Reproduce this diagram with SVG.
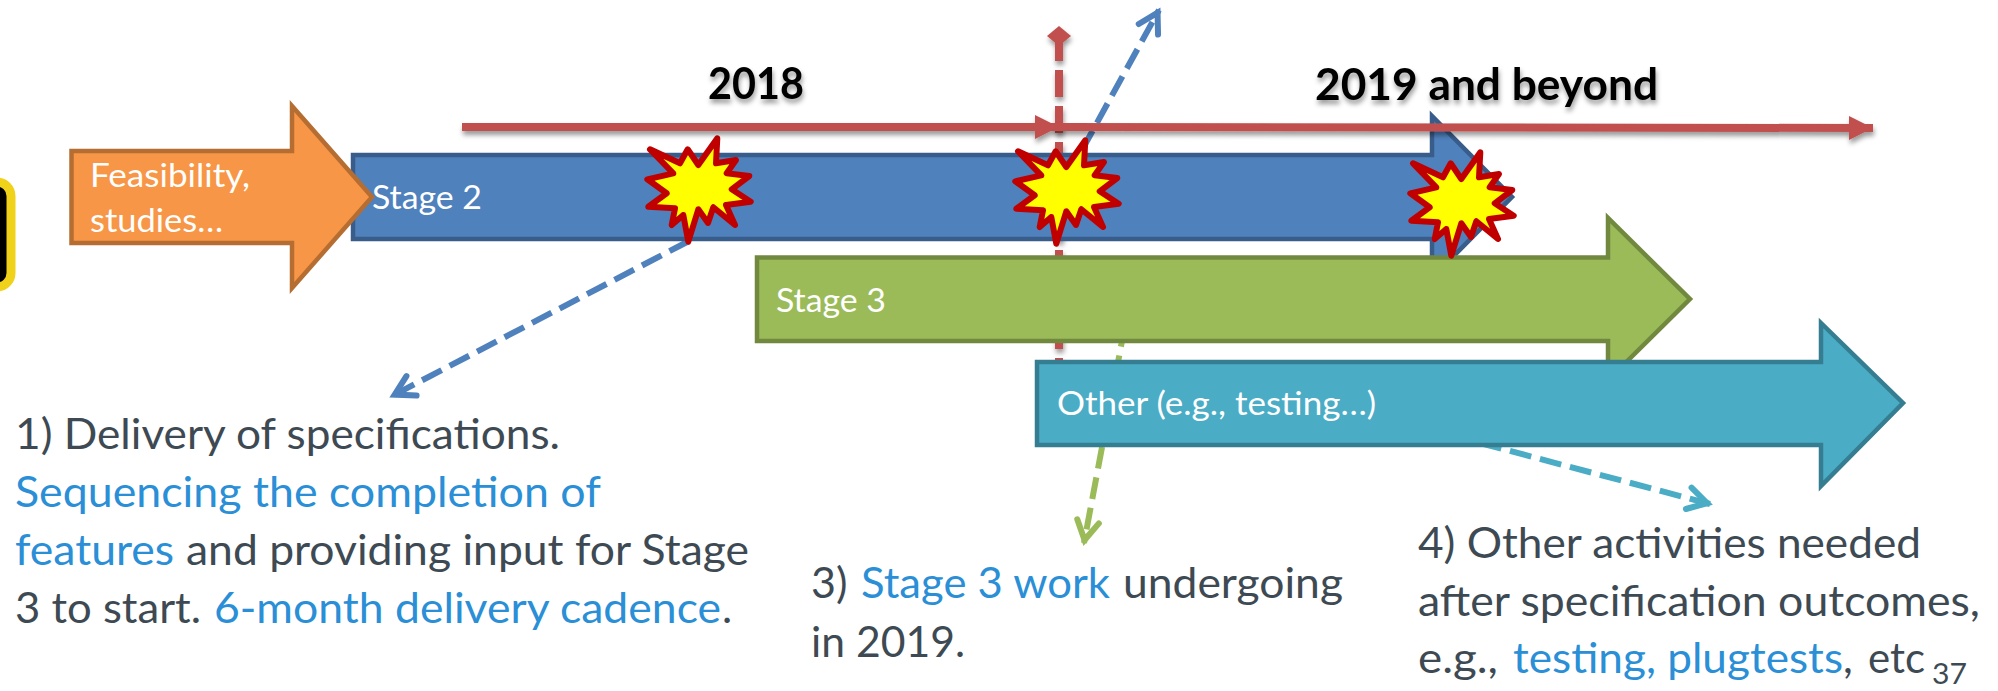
<svg xmlns="http://www.w3.org/2000/svg" width="1998" height="691" viewBox="0 0 1998 691">
<style>
text{font-family:Lato,"Liberation Sans",sans-serif}
.body{font-size:43px;fill:#3e4a53}
.hi{fill:#2a8fd6}
.lab{font-size:33px;fill:#fff}
.yr{font-size:44px;font-weight:700;fill:#000;filter:url(#shadow)}
.arrow{stroke-width:4.5;stroke-linejoin:miter;stroke-miterlimit:10}
.star{fill:#ff0;stroke:#c00000;stroke-width:6;stroke-linejoin:round}
.dash{fill:none;stroke-width:6;stroke-dasharray:22 9}
.tl{stroke:#c0504d;stroke-width:8;fill:none}
</style>
<defs>
<filter id="shadow" filterUnits="userSpaceOnUse" x="0" y="0" width="1998" height="691"><feDropShadow dx="1" dy="4" stdDeviation="2.5" flood-color="#000" flood-opacity=".4"/></filter>
<marker id="mBlue" markerUnits="userSpaceOnUse" markerWidth="40" markerHeight="40" refX="30" refY="20" orient="auto"><path d="M8,9 L27,20 L8,31" fill="none" stroke="#4f81bd" stroke-width="6" stroke-linecap="round" stroke-miterlimit="10"/></marker>
<marker id="mGreen" markerUnits="userSpaceOnUse" markerWidth="40" markerHeight="40" refX="30" refY="20" orient="auto"><path d="M8,9 L27,20 L8,31" fill="none" stroke="#9bbb59" stroke-width="6" stroke-linecap="round" stroke-miterlimit="10"/></marker>
<marker id="mTeal" markerUnits="userSpaceOnUse" markerWidth="40" markerHeight="40" refX="30" refY="20" orient="auto"><path d="M8,9 L27,20 L8,31" fill="none" stroke="#4bacc6" stroke-width="6" stroke-linecap="round" stroke-miterlimit="10"/></marker>
<marker id="mTri" markerUnits="userSpaceOnUse" markerWidth="30" markerHeight="30" refX="24" refY="15" orient="auto"><path d="M0,3 L24,15 L0,27Z" fill="#c0504d"/></marker>
<marker id="mDia" markerUnits="userSpaceOnUse" markerWidth="30" markerHeight="30" refX="15" refY="15" orient="0"><path d="M3,15 L15,5 L27,15 L15,25Z" fill="#c0504d"/></marker>
<path id="burst" d="M650,149.3 L680,163.3 L687.7,149.3 L698.3,165 L717.3,138.3 L716,163.3 L736,160 L726.7,173.3 L749.3,176 L731.7,189.3 L750.7,201.7 L726,205 L735,225 L713.3,207.3 L708,223 L698.3,209.3 L688.3,241.7 L683.3,215 L671.7,225 L675,208.3 L648.3,206.7 L666.7,193.3 L647.3,179.3 L673.3,173.3Z"/>
</defs>

<g id="icon"><rect x="-40" y="182" width="51" height="105" rx="14" fill="#000" stroke="#f0d21a" stroke-width="9"/></g>

<g id="connectors">
<path class="tl" d="M1059,36 L1059,361" stroke-dasharray="27 9" stroke-dashoffset="2" marker-start="url(#mDia)" filter="url(#shadow)"/>
<path class="dash" stroke="#4f81bd" d="M689,241 L392,396" marker-end="url(#mBlue)"/>
<path class="dash" stroke="#4f81bd" d="M1082,150 L1159,10" marker-end="url(#mBlue)"/>
<path class="dash" stroke="#9bbb59" d="M1125,325 L1084,543" marker-end="url(#mGreen)"/>
<path class="dash" stroke="#4bacc6" d="M1480,443 L1710,504" marker-end="url(#mTeal)"/>
</g>

<g id="node-stage2"><path class="arrow" fill="#4f81bd" stroke="#385d8a" d="M353,155 H1432 V116 L1512,197 L1432,278 V239 H353Z"/></g>
<g id="node-feasibility"><path class="arrow" fill="#f79646" stroke="#b66d31" d="M71.5,151 H292 V106 L372,197 L292,288 V243 H71.5Z"/>
<text class="lab"><tspan x="90" y="187" textLength="160" lengthAdjust="spacingAndGlyphs">Feasibility,</tspan><tspan x="90" y="232" textLength="133" lengthAdjust="spacingAndGlyphs">studies…</tspan></text></g>
<g id="label-stage2"><text class="lab" x="372" y="209" textLength="110" lengthAdjust="spacingAndGlyphs">Stage 2</text></g>
<g id="node-stage3"><path class="arrow" fill="#9bbb59" stroke="#71893f" d="M757,257.5 H1608 V218 L1690,299 L1608,380 V341 H757Z"/>
<text class="lab" x="776" y="312" textLength="110" lengthAdjust="spacingAndGlyphs">Stage 3</text></g>
<g id="node-other"><path class="arrow" fill="#4bacc6" stroke="#357d91" d="M1037,362 H1821 V323 L1903,403 L1821,486 V445 H1037Z"/>
<text class="lab" x="1057" y="415" textLength="319" lengthAdjust="spacingAndGlyphs">Other (e.g., testing…)</text></g>

<g id="burst-1"><use href="#burst" class="star"/></g>
<g id="burst-2"><use href="#burst" class="star" x="368" y="2"/></g>
<g id="burst-3"><use href="#burst" class="star" x="763" y="14"/></g>

<g id="timeline" filter="url(#shadow)">
<path class="tl" d="M462,127 L1059,127" marker-end="url(#mTri)"/>
<path class="tl" d="M1059,127 L1873,128" marker-end="url(#mTri)"/>
</g>

<g id="year-2018"><text class="yr" x="708" y="99" textLength="96" lengthAdjust="spacingAndGlyphs">2018</text></g>
<g id="year-2019"><text class="yr" x="1315" y="100" textLength="343" lengthAdjust="spacingAndGlyphs">2019 and beyond</text></g>

<g id="note-1"><text class="body">
<tspan x="15" y="449" textLength="545" lengthAdjust="spacingAndGlyphs">1) Delivery of specifications.</tspan>
<tspan class="hi" x="15" y="507" textLength="585" lengthAdjust="spacingAndGlyphs">Sequencing the completion of</tspan>
<tspan class="hi" x="15" y="565" textLength="159" lengthAdjust="spacingAndGlyphs">features</tspan>
<tspan x="186" y="565" textLength="563" lengthAdjust="spacingAndGlyphs">and providing input for Stage</tspan>
<tspan x="15" y="623" textLength="186" lengthAdjust="spacingAndGlyphs">3 to start.</tspan>
<tspan class="hi" x="214" y="623" textLength="507" lengthAdjust="spacingAndGlyphs">6-month delivery cadence</tspan>
<tspan x="722" y="623">.</tspan>
</text></g>
<g id="note-3"><text class="body">
<tspan x="811" y="598">3)</tspan>
<tspan class="hi" x="861" y="598" textLength="249" lengthAdjust="spacingAndGlyphs">Stage 3 work</tspan>
<tspan x="1123" y="598" textLength="220" lengthAdjust="spacingAndGlyphs">undergoing</tspan>
<tspan x="811" y="657" textLength="154" lengthAdjust="spacingAndGlyphs">in 2019.</tspan>
</text></g>
<g id="note-4"><text class="body">
<tspan x="1418" y="558" textLength="503" lengthAdjust="spacingAndGlyphs">4) Other activities needed</tspan>
<tspan x="1418" y="616" textLength="562" lengthAdjust="spacingAndGlyphs">after specification outcomes,</tspan>
<tspan x="1418" y="673" textLength="80" lengthAdjust="spacingAndGlyphs">e.g.,</tspan>
<tspan class="hi" x="1513" y="673" textLength="330" lengthAdjust="spacingAndGlyphs">testing, plugtests</tspan>
<tspan x="1843" y="673">,</tspan>
<tspan x="1868" y="673" textLength="57" lengthAdjust="spacingAndGlyphs">etc</tspan>
</text></g>
<g id="page-number"><text x="1932" y="684" style="font-size:28px;fill:#3e4a53" textLength="35" lengthAdjust="spacingAndGlyphs">37</text></g>
</svg>
